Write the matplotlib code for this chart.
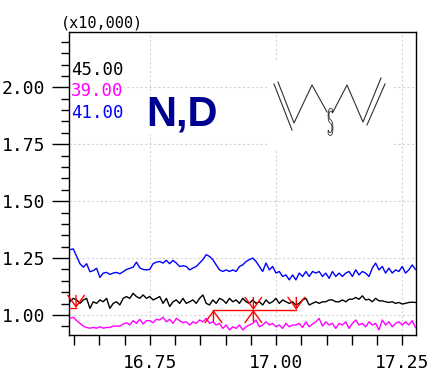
import numpy as np
import matplotlib.pyplot as plt
from matplotlib.ticker import MultipleLocator, FormatStrFormatter
from matplotlib.textpath import TextPath
from matplotlib.patches import PathPatch, Rectangle
from matplotlib.transforms import Affine2D

# price lines (x10,000)
line_blue = [1.287, 1.290, 1.257, 1.225, 1.210, 1.225, 1.190, 1.195, 1.205, 1.165, 1.184, 1.187,
             1.178, 1.184, 1.187, 1.181, 1.190, 1.200, 1.205, 1.210, 1.232, 1.207, 1.200, 1.198,
             1.200, 1.225, 1.232, 1.235, 1.228, 1.240, 1.225, 1.240, 1.228, 1.213, 1.216,
             1.213, 1.198, 1.206, 1.213, 1.228, 1.243, 1.265, 1.257, 1.243, 1.220, 1.198, 1.191,
             1.198, 1.191, 1.198, 1.191, 1.213, 1.220, 1.235, 1.243, 1.250, 1.235, 1.213, 1.191,
             1.228, 1.198, 1.213, 1.184, 1.191, 1.169, 1.176, 1.154, 1.176,
             1.154, 1.184, 1.169, 1.191, 1.169, 1.191, 1.184, 1.191, 1.169, 1.184, 1.161, 1.191,
             1.169, 1.184, 1.169, 1.184, 1.191, 1.169, 1.198, 1.176, 1.191, 1.184, 1.169, 1.206,
             1.228, 1.198, 1.213, 1.184, 1.206, 1.184, 1.198, 1.191, 1.213, 1.184, 1.198, 1.220,
             1.200]

line_black = [1.058, 1.073, 1.066, 1.051, 1.066, 1.073, 1.029, 1.058, 1.051, 1.066, 1.058, 1.073,
              1.029, 1.051, 1.058, 1.044, 1.073, 1.081, 1.073, 1.095, 1.081, 1.073, 1.088, 1.073,
              1.081, 1.066, 1.073, 1.081, 1.051, 1.073, 1.037, 1.058, 1.066, 1.051, 1.073,
              1.051, 1.058, 1.066, 1.051, 1.073, 1.088, 1.051, 1.044, 1.066, 1.051, 1.073, 1.066,
              1.051, 1.073, 1.058, 1.066, 1.051, 1.073, 1.058, 1.051, 1.066, 1.051, 1.058, 1.044,
              1.066, 1.051, 1.058, 1.073, 1.051, 1.066, 1.058, 1.051, 1.058,
              1.044, 1.051, 1.066, 1.073, 1.044, 1.051, 1.058, 1.051, 1.058, 1.058, 1.066, 1.066,
              1.058, 1.058, 1.066, 1.058, 1.069, 1.069, 1.077, 1.069, 1.084, 1.066, 1.069, 1.058,
              1.073, 1.062, 1.062, 1.058, 1.055, 1.058, 1.051, 1.055, 1.048, 1.051, 1.055, 1.056,
              1.055]

line_pink = [0.985, 0.990, 0.975, 0.963, 0.951, 0.945, 0.942, 0.945, 0.942, 0.948, 0.942, 0.945,
             0.945, 0.951, 0.951, 0.951, 0.960, 0.966, 0.956, 0.975, 0.963, 0.981, 0.960, 0.975,
             0.975, 0.966, 0.981, 0.978, 0.990, 0.970, 0.981, 0.963, 0.985, 0.975, 0.966,
             0.970, 0.956, 0.970, 0.963, 0.978, 0.970, 0.985, 0.963, 0.970, 0.956, 0.963, 0.941,
             0.956, 0.934, 0.948, 0.941, 0.956, 0.934, 0.948, 0.956, 0.963, 0.978, 0.948, 0.956,
             0.970, 0.956, 0.963, 0.948, 0.956, 0.941, 0.963, 0.948, 0.956,
             0.956, 0.963, 0.945, 0.970, 0.948, 0.960, 0.970, 0.985, 0.951, 0.970, 0.956, 0.963,
             0.941, 0.963, 0.956, 0.970, 0.941, 0.963, 0.978, 0.956, 0.963, 0.948, 0.970, 0.956,
             0.963, 0.934, 0.978, 0.956, 0.970, 0.948, 0.963, 0.970, 0.956, 0.970, 0.956, 0.975,
             0.945]

t_start, t_end = 16.592, 17.276

# trade signals: (time, level)
sell_sig = [(16.604, 1.031), (16.955, 1.022), (17.040, 1.022)]
buy_sig = [(16.876, 1.022), (16.955, 1.022)]
hold_seg = [(16.588, 16.604, 1.031), (16.876, 17.040, 1.022)]

params = ['45.00', '39.00', '41.00']
param_colors = ['black', '#ff00ff', '#0000ff']

fig = plt.figure(figsize=(4.29, 3.71), dpi=100)
ax = fig.add_axes([69 / 429, 1 - 335 / 371, 347 / 429, 303 / 371])

for vals, c in [(line_blue, '#0000ff'), (line_black, 'black'), (line_pink, '#ff00ff')]:
    t = np.linspace(t_start, t_end, len(vals))
    ax.plot(t, vals, color=c, lw=1.0, zorder=3)

for x0, x1, lv in hold_seg:
    ax.plot([x0, x1], [lv, lv], color='red', lw=1.0, zorder=4)
arrow = dict(arrowstyle='->,head_length=0.55,head_width=0.4', color='red', lw=1.0,
             shrinkA=0, shrinkB=0, mutation_scale=15)
for x, lv in sell_sig:
    ax.annotate('', xy=(x, lv), xytext=(x, lv + 0.055), arrowprops=arrow, zorder=4)
for x, lv in buy_sig:
    ax.annotate('', xy=(x, lv), xytext=(x, lv - 0.05), arrowprops=arrow, zorder=4)

ax.set_xlim(16.590, 17.277)
ax.set_ylim(0.912, 2.243)
ax.xaxis.set_major_locator(MultipleLocator(0.25))
ax.xaxis.set_minor_locator(MultipleLocator(0.05))
ax.yaxis.set_major_locator(MultipleLocator(0.25))
ax.yaxis.set_minor_locator(MultipleLocator(0.05))
ax.xaxis.set_major_formatter(FormatStrFormatter('%.2f'))
ax.yaxis.set_major_formatter(FormatStrFormatter('%.2f'))
ax.grid(which='major', color='#d4d4d4', linestyle=(0, (2, 2)), lw=0.8, zorder=0)
ax.tick_params(axis='x', which='both', length=7, width=1, pad=7)
ax.tick_params(axis='y', which='major', length=12, width=1, pad=5)
ax.tick_params(axis='y', which='minor', length=6, width=1)
for lab in ax.get_xticklabels() + ax.get_yticklabels():
    lab.set_family('DejaVu Sans Mono')
    lab.set_fontsize(13)
for s in ax.spines.values():
    s.set_linewidth(1.0)

fig.text(61 / 429, 1 - 23 / 371, '(x10,000)', ha='left', va='center',
         fontsize=11, family='DejaVu Sans Mono')

for i, (p, c) in enumerate(zip(params, param_colors)):
    fig.text(71 / 429, 1 - (70 + 21.5 * i) / 371, p, color=c, ha='left', va='center',
             fontsize=12.5, family='DejaVu Sans Mono',
             bbox=dict(facecolor='white', edgecolor='none', pad=0))

fig.text(146 / 429, 1 - 125 / 371, 'N,D', color='#000090', fontsize=30,
         fontweight='bold', family='Liberation Sans', ha='left', va='baseline',
         bbox=dict(facecolor='white', edgecolor='none', pad=0))

# logo drawn in pixel space on top of the chart
deco = fig.add_axes([0, 0, 1, 1])
deco.set_xlim(0, 429)
deco.set_ylim(371, 0)
deco.axis('off')
deco.patch.set_alpha(0)
deco.add_patch(Rectangle((268, 62), 124, 88, facecolor='white', edgecolor='none'))
ink = dict(color='#303030', lw=0.8)
deco.plot([278, 294, 312, 327], [82, 123, 85, 112], **ink)
deco.plot([333, 347, 363, 381], [112, 85, 122, 78], **ink)
deco.plot([274, 292], [84, 130], **ink)
deco.plot([367, 385], [125, 84], **ink)
s_path = TextPath((0, 0), 'S', size=36, prop={'family': 'DejaVu Sans'})
s_tf = Affine2D().scale(0.26, -1.0).translate(327.5, 135) + deco.transData
deco.add_patch(PathPatch(s_path, transform=s_tf, facecolor='none',
                         edgecolor='#303030', lw=0.6))

fig.savefig('out.png', dpi=100)
